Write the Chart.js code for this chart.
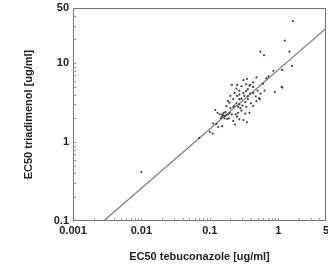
<!DOCTYPE html>
<html><head><meta charset="utf-8">
<script src="https://cdn.jsdelivr.net/npm/chart.js@4/dist/chart.umd.min.js"></script>
<style>html,body{margin:0;padding:0;background:#fff}#wrap{width:328px;height:277px}</style>
</head><body><div id="wrap"><canvas id="c" width="328" height="277"></canvas></div>
<script>
const tebuconazole = [1.64,1.25,1.46,1.6,0.55,0.62,1.14,0.85,1.12,1.15,0.89,0.72,0.67,0.6,0.48,0.43,0.38,0.35,0.31,0.34,0.29,0.25,0.21,0.27,0.31,0.36,0.43,0.47,0.52,0.54,0.39,0.36,0.33,0.29,0.27,0.25,0.22,0.2,0.195,0.23,0.26,0.28,0.3,0.34,0.38,0.33,0.29,0.26,0.24,0.21,0.195,0.185,0.175,0.165,0.156,0.152,0.16,0.17,0.15,0.145,0.14,0.165,0.18,0.19,0.13,0.12,0.112,0.125,0.133,0.152,0.1,0.11,0.07,0.01,0.22,0.234,0.25,0.27,0.31,0.35,0.245,0.22,0.2,0.27,0.4,0.43,0.48,0.36,0.32,0.27,0.23,0.175,0.185,0.245,0.34,0.43,0.5,0.55,0.63,0.39];
const triadimenol = [34,19.3,14,9.2,14,12.6,8.2,8.0,5.0,4.9,4.3,6.8,6.4,5.5,6.6,5.0,5.2,6.3,6.1,5.4,5.1,5.3,5.3,4.5,4.2,4.7,5.7,3.8,3.6,3.5,4.1,3.5,3.2,3.55,3.5,3.85,3.5,3.85,3.15,2.9,2.8,2.7,2.9,2.8,2.35,2.3,2.5,2.35,2.25,2.25,2.35,2.25,2.2,2.13,2.18,2.25,2.35,2.4,2.1,2.0,2.25,2.0,1.96,2.0,2.35,2.55,1.72,1.7,1.55,1.59,1.35,1.28,1.13,0.42,1.85,1.67,2.1,1.94,1.9,1.78,3.1,2.8,2.7,3.0,3.1,2.86,3.3,3.8,3.85,4.0,4.2,2.85,3.3,4.75,4.45,4.2,4.5,4.1,4.5,5.3];
const fitX = [0.0028, 5];
const fitY = [0.1, 27.5];
const xTicks = [0.001, 0.01, 0.1, 1, 5];
const yTicks = [0.1, 1, 10, 50];
const xTitle = 'EC50 tebuconazole [ug/ml]';
const yTitle = 'EC50 triadimenol [ug/ml]';

const points = tebuconazole.map((x,i)=>({x:x,y:triadimenol[i]}));
const fit = fitX.map((x,i)=>({x:x,y:fitY[i]}));

function minorValues(min,max){
  const out=[];
  for(let e=Math.floor(Math.log10(min));e<=Math.ceil(Math.log10(max));e++){
    for(let m=1;m<10;m++){const v=m*Math.pow(10,e); if(v>min*1.0001&&v<max*0.9999) out.push(v);}
  }
  return out;
}

const framePlugin = {
  id:'frame',
  afterDatasetsDraw(chart){
    const {ctx, chartArea:a, scales} = chart;
    ctx.save();
    ctx.strokeStyle='#777'; ctx.lineWidth=1;
    ctx.strokeRect(a.left+0.5,a.top+0.5,a.right-a.left-1,a.bottom-a.top-1);
    ctx.strokeStyle='#999';
    ctx.beginPath();
    minorValues(scales.x.min,scales.x.max).forEach(v=>{
      const px=Math.round(scales.x.getPixelForValue(v))+0.5;
      ctx.moveTo(px,a.bottom); ctx.lineTo(px,a.bottom-3);
    });
    minorValues(scales.y.min,scales.y.max).forEach(v=>{
      const py=Math.round(scales.y.getPixelForValue(v))+0.5;
      ctx.moveTo(a.left,py); ctx.lineTo(a.left+3,py);
    });
    ctx.stroke();
    ctx.restore();
  }
};

const font = {family:'Liberation Sans, Arial, sans-serif', size:11, weight:'bold'};
new Chart(document.getElementById('c'),{
  type:'scatter',
  data:{datasets:[
    {data:points, pointRadius:1.1, pointHoverRadius:1.1, backgroundColor:'#444', borderColor:'#444', borderWidth:0},
    {type:'line', data:fit, showLine:true, pointRadius:0, borderColor:'#808080', borderWidth:1.3, fill:false}
  ]},
  options:{
    responsive:false, animation:false, events:[],
    layout:{padding:{top:8,right:2,left:0,bottom:0}},
    plugins:{legend:{display:false},tooltip:{enabled:false}},
    scales:{
      x:{type:'logarithmic', min:0.001, max:5,
        afterBuildTicks(s){s.ticks=xTicks.map(v=>({value:v}));},
        afterFit(s){s.height=56; s.paddingLeft=0; s.paddingRight=0;},
        grid:{display:false, drawTicks:false, tickLength:0}, border:{display:false},
        ticks:{font:font, color:'#222', padding:3, maxRotation:0, autoSkip:false, callback:(v)=>String(v)},
        title:{display:true, text:xTitle, font:font, color:'#222', padding:{top:0,bottom:13}}
      },
      y:{type:'logarithmic', min:0.1, max:50,
        afterBuildTicks(s){s.ticks=yTicks.map(v=>({value:v}));},
        afterFit(s){s.width=73; s.paddingTop=0; s.paddingBottom=0;},
        grid:{display:false, drawTicks:false, tickLength:0}, border:{display:false},
        ticks:{font:font, color:'#222', padding:4, autoSkip:false, callback:(v)=>String(v)},
        title:{display:true, text:yTitle, font:font, color:'#222', padding:{top:22,bottom:0}}
      }
    }
  },
  plugins:[framePlugin]
});
</script></body></html>
